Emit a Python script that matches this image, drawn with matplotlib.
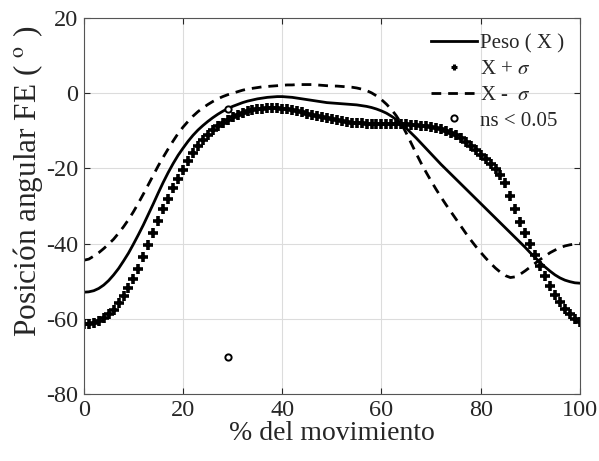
import matplotlib
matplotlib.use("Agg")
import matplotlib.pyplot as plt
import numpy as np

# % del movimiento (0..100, paso 1)
pct = np.arange(0, 101)

peso = [
    -52.9, -52.8, -52.5, -51.9, -51.0, -49.8, -48.3, -46.6, -44.6, -42.5,
    -40.1, -37.6, -35.0, -32.2, -29.4, -26.5, -23.7, -21.1, -18.7, -16.5,
    -14.6, -12.8, -11.2, -9.8, -8.6, -7.5, -6.5, -5.6, -4.8, -4.1,
    -3.5, -3.0, -2.5, -2.1, -1.8, -1.5, -1.3, -1.1, -1.0, -0.9,
    -0.9, -1.0, -1.1, -1.3, -1.5, -1.7, -1.9, -2.1, -2.3, -2.5,
    -2.6, -2.7, -2.8, -2.9, -3.0, -3.1, -3.3, -3.5, -3.8, -4.2,
    -4.7, -5.3, -6.1, -7.0, -8.1, -9.3, -10.6, -11.9, -13.3, -14.7,
    -16.1, -17.5, -18.9, -20.2, -21.5, -22.8, -24.1, -25.4, -26.7, -28.0,
    -29.3, -30.6, -31.9, -33.2, -34.5, -35.8, -37.1, -38.4, -39.7, -41.0,
    -42.4, -43.7, -45.0, -46.2, -47.3, -48.3, -49.1, -49.7, -50.1, -50.4,
    -50.5,
]

mas_sigma = [
    -61.3, -61.3, -61.0, -60.5, -59.8, -58.8, -57.5, -55.9, -54.0, -51.8,
    -49.3, -46.6, -43.6, -40.4, -37.2, -34.0, -30.9, -28.0, -25.3, -22.7,
    -20.3, -18.0, -15.9, -14.0, -12.4, -11.0, -9.8, -8.7, -7.8, -7.0,
    -6.3, -5.7, -5.2, -4.8, -4.5, -4.3, -4.1, -4.0, -4.0, -4.0,
    -4.1, -4.3, -4.5, -4.8, -5.1, -5.4, -5.7, -6.0, -6.3, -6.6,
    -6.9, -7.2, -7.4, -7.6, -7.8, -7.9, -8.0, -8.1, -8.1, -8.1,
    -8.1, -8.1, -8.1, -8.1, -8.2, -8.3, -8.4, -8.5, -8.6, -8.8,
    -9.0, -9.3, -9.6, -10.0, -10.5, -11.2, -12.0, -13.0, -14.1, -15.2,
    -16.3, -17.5, -18.7, -20.1, -21.8, -24.0, -27.2, -30.9, -34.2, -37.1,
    -40.0, -42.9, -45.8, -48.7, -51.3, -53.6, -55.6, -57.3, -58.8, -60.0,
    -60.8,
]

menos_sigma = [
    -44.4, -44.1, -43.3, -42.4, -41.3, -40.1, -38.8, -37.2, -35.5, -33.6,
    -31.5, -29.2, -26.8, -24.3, -21.8, -19.3, -17.0, -14.8, -12.7, -10.7,
    -9.0, -7.5, -6.1, -4.9, -3.9, -3.0, -2.2, -1.5, -0.9, -0.4,
    0.0, 0.4, 0.8, 1.1, 1.3, 1.5, 1.7, 1.8, 1.9, 2.0,
    2.1, 2.2, 2.2, 2.3, 2.3, 2.3, 2.3, 2.2, 2.1, 2.0,
    1.9, 1.9, 1.8, 1.7, 1.6, 1.4, 1.1, 0.7, 0.1, -0.7,
    -1.7, -2.9, -4.3, -6.0, -8.1, -10.6, -13.3, -16.0, -18.6, -21.0,
    -23.3, -25.5, -27.6, -29.6, -31.5, -33.4, -35.3, -37.2, -39.0, -40.7,
    -42.3, -43.8, -45.2, -46.5, -47.6, -48.5, -49.0, -48.8, -48.1, -47.2,
    -46.2, -45.2, -44.2, -43.3, -42.4, -41.7, -41.1, -40.6, -40.3, -40.1,
    -40.0,
]

ns_x = [29, 29]
ns_y = [-4.3, -70]

plt.rcParams["font.family"] = ["Liberation Serif", "DejaVu Serif"]
plt.rcParams["mathtext.fontset"] = "stix"
plt.rcParams["axes.unicode_minus"] = False
txt = "#262626"

fig = plt.figure(figsize=(5.99, 4.61), dpi=100)
ax = fig.add_axes([0.140, 0.145, 0.828, 0.816])

ax.plot(pct, peso, color="black", lw=2.0, label="Peso ( X )")
ax.plot(pct, mas_sigma, ls="none", marker="+", ms=7, mew=2.6, color="black",
        label=r"X + $\sigma$")
ax.plot(pct, menos_sigma, color="black", lw=2.0, ls=(0, (3.5, 2.5)),
        label=r"X -  $\sigma$")
ax.plot(ns_x, ns_y, ls="none", marker="o", ms=4.5, mew=1.4, mfc="white",
        mec="black", label="ns < 0.05")

ax.set_xlim(0, 100)
ax.set_ylim(-80, 20)
ax.set_xticks([0, 20, 40, 60, 80, 100])
ax.set_yticks([-80, -60, -40, -20, 0, 20])
ax.grid(True, color="#dcdcdc", lw=0.8)
ax.set_axisbelow(True)
ax.tick_params(direction="in", top=True, right=True, labelsize=17.5,
               colors=txt, length=4, pad=4)
for sp in ax.spines.values():
    sp.set_color("#555555")
    sp.set_linewidth(0.8)

ax.set_xlabel("% del movimiento", fontsize=20, color=txt, labelpad=0)
ax.set_ylabel(r"Posición angular FE ( $^{\mathrm{o}}$ )", fontsize=22.5,
              color=txt)
ax.yaxis.set_label_coords(-0.078, 0.566)

leg = ax.legend(loc="upper right", frameon=False, fontsize=15,
                handlelength=2.2, handletextpad=0.15, labelspacing=0.3,
                borderaxespad=0.35, markerscale=1.0)
for t in leg.get_texts():
    t.set_color(txt)
hs = leg.legend_handles
hs[1].set_markersize(5)
hs[1].set_markeredgewidth(2.2)
hs[3].set_markersize(4.5)

fig.savefig("out.png", dpi=100)
